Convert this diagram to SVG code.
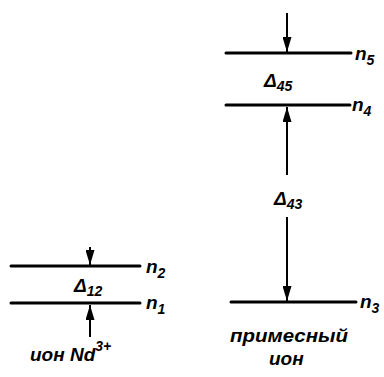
<svg xmlns="http://www.w3.org/2000/svg" width="384" height="377" viewBox="0 0 384 377">
<style>
.lvl{stroke:#000;stroke-width:3;stroke-linecap:round}
.ar{stroke:#000;stroke-width:2;fill:none}
.t{font-family:"Liberation Sans",Arial,sans-serif;font-weight:bold;font-style:italic;fill:#000}
.lbl{font-size:19px}
.sub{font-size:14px}
</style>
<defs>
<marker id="ah" markerWidth="15" markerHeight="9" refX="15" refY="4.5" orient="auto" markerUnits="userSpaceOnUse" viewBox="0 0 15 9">
<path d="M0,0 L15,4.5 L0,9 Z" fill="#000"/>
</marker>
</defs>
<rect width="384" height="377" fill="#fff"/>
<g id="connectors">
<line class="ar" x1="90" y1="247" x2="90" y2="265" marker-end="url(#ah)"/>
<line class="ar" x1="90" y1="337" x2="90" y2="305" marker-end="url(#ah)"/>
<line class="ar" x1="287" y1="13" x2="287" y2="52" marker-end="url(#ah)"/>
<line class="ar" x1="287" y1="175" x2="287" y2="107" marker-end="url(#ah)"/>
<line class="ar" x1="287" y1="217" x2="287" y2="301" marker-end="url(#ah)"/>
</g>
<g id="nd-ion">
<line class="lvl" x1="11" y1="266" x2="140" y2="266"/>
<line class="lvl" x1="11" y1="303" x2="140" y2="303"/>
<text class="t lbl" x="146" y="273">n<tspan class="sub" dy="5">2</tspan></text>
<text class="t lbl" x="146" y="309">n<tspan class="sub" dy="5">1</tspan></text>
<text class="t lbl" x="74" y="292">Δ<tspan class="sub" dy="4">12</tspan></text>
<text class="t lbl" x="30" y="361">ион Nd<tspan class="sub" font-size="16" dy="-10">3+</tspan></text>
</g>
<g id="impurity-ion">
<line class="lvl" x1="226" y1="53" x2="351" y2="53"/>
<line class="lvl" x1="226" y1="105" x2="350" y2="105"/>
<line class="lvl" x1="231" y1="302" x2="356" y2="302"/>
<text class="t lbl" x="355" y="60">n<tspan class="sub" dy="5">5</tspan></text>
<text class="t lbl" x="352" y="111">n<tspan class="sub" dy="5">4</tspan></text>
<text class="t lbl" x="360" y="308">n<tspan class="sub" dy="5">3</tspan></text>
<text class="t lbl" x="264" y="87">Δ<tspan class="sub" dy="4">45</tspan></text>
<text class="t lbl" x="274" y="205">Δ<tspan class="sub" dy="4">43</tspan></text>
<text class="t lbl" x="230" y="342" textLength="118" lengthAdjust="spacingAndGlyphs">примесный</text>
<text class="t lbl" x="269" y="365">ион</text>
</g>
</svg>
